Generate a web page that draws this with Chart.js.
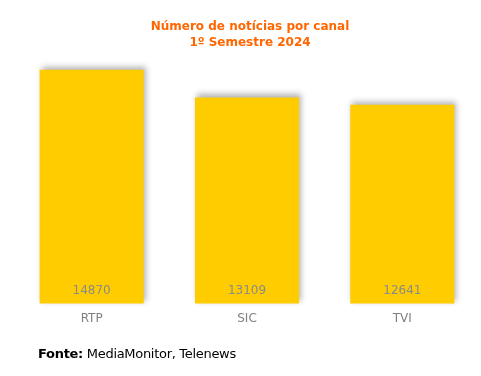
<!DOCTYPE html>
<html>
<head>
<meta charset="utf-8">
<script src="https://cdn.jsdelivr.net/npm/chart.js@4"></script>
<style>
  html, body { margin: 0; padding: 0; background: #fff; }
  #wrap { position: relative; width: 481px; height: 376px; }
  #footer { position: absolute; left: 38px; top: 346px; font: 13px "DejaVu Sans", Verdana, sans-serif; color: #000; letter-spacing: -0.3px; }
</style>
</head>
<body>
<div id="wrap">
  <canvas id="chart" width="481" height="376"></canvas>
  <div id="footer"><b>Fonte:</b> MediaMonitor, Telenews</div>
</div>
<script>
// Data
const channels = ['RTP', 'SIC', 'TVI'];
const newsCount = [14870, 13109, 12641];
const titleLines = ['Número de notícias por canal', '1º Semestre 2024'];

const barShadow = {
    id: 'barShadow',
    beforeDatasetDraw(chart) {
        const ctx = chart.ctx;
        ctx.save();
        ctx.shadowColor = 'rgba(0,0,0,0.3)';
        ctx.shadowBlur = 6;
        ctx.shadowOffsetX = 2;
        ctx.shadowOffsetY = -3;
    },
    afterDatasetDraw(chart) {
        chart.ctx.restore();
    }
};

const valueLabels = {
    id: 'valueLabels',
    afterDatasetsDraw(chart) {
        const ctx = chart.ctx;
        const meta = chart.getDatasetMeta(0);
        ctx.save();
        ctx.font = '12px "DejaVu Sans", Verdana, sans-serif';
        ctx.fillStyle = '#8a8a8a';
        ctx.textAlign = 'center';
        ctx.textBaseline = 'middle';
        meta.data.forEach((bar, i) => {
            ctx.fillText(String(newsCount[i]), bar.x, bar.base - 13);
        });
        ctx.restore();
    }
};

const titleDraw = {
    id: 'titleDraw',
    afterDraw(chart) {
        const ctx = chart.ctx;
        ctx.save();
        ctx.font = 'bold 12px "DejaVu Sans", Verdana, sans-serif';
        ctx.fillStyle = '#ff6600';
        ctx.textAlign = 'center';
        ctx.textBaseline = 'middle';
        ctx.fillText(titleLines[0], 250, 27);
        ctx.fillText(titleLines[1], 250, 43);
        ctx.restore();
    }
};

new Chart(document.getElementById('chart'), {
    type: 'bar',
    data: {
        labels: channels,
        datasets: [{
            data: newsCount,
            backgroundColor: '#ffcc00',
            borderWidth: 0,
            categoryPercentage: 1,
            barPercentage: 0.67,
            clip: false
        }]
    },
    options: {
        responsive: false,
        animation: false,
        layout: { padding: { left: 14, right: 1, top: 52, bottom: 50 } },
        plugins: { legend: { display: false }, tooltip: { enabled: false }, title: { display: false } },
        scales: {
            x: {
                grid: { display: false },
                border: { display: false },
                ticks: { color: '#808080', padding: 0, font: { family: '"DejaVu Sans", Verdana, sans-serif', size: 12 } }
            },
            y: { display: false, min: 0, max: 16000 }
        }
    },
    plugins: [barShadow, valueLabels, titleDraw]
});
</script>
</body>
</html>
